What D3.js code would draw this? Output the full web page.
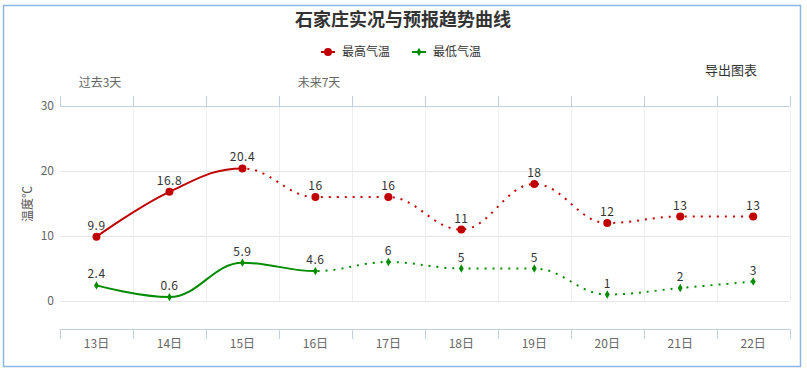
<!DOCTYPE html>
<html lang="zh"><head>
<meta charset="utf-8">
<title>石家庄实况与预报趋势曲线</title>
<script src="https://cdnjs.cloudflare.com/ajax/libs/d3/7.8.5/d3.min.js"></script>
<style>
body { margin: 0; background: #fff; }
text { font-family: "Noto Sans CJK SC", "Noto Sans", sans-serif; }
</style>
</head>
<body>
<div id="chart"></div>
<script type="text/javascript">

// data
var days = ["13日", "14日", "15日", "16日", "17日", "18日", "19日", "20日", "21日", "22日"];
var highTemp = [9.9, 16.8, 20.4, 16, 16, 11, 18, 12, 13, 13];
var lowTemp = [2.4, 0.6, 5.9, 4.6, 6, 5, 5, 1, 2, 3];
var yTicks = [0, 10, 20, 30];
var highLastSolid = 2;   // 15日
var lowLastSolid = 3;    // 16日

var width = 807, height = 371;
var plotLeft = 60, plotRight = 789.7, plotTop = 106, plotBottom = 301, xAxisY = 329;

var svg = d3.select("#chart").append("svg")
    .attr("width", width).attr("height", height);

svg.append("rect")
    .attr("x", 3.5).attr("y", 5.5)
    .attr("width", 797).attr("height", 361)
    .attr("fill", "none").attr("stroke", "#8db7e3").attr("stroke-width", 1.5);

var x = d3.scaleBand().domain(days).range([plotLeft, plotRight]).padding(0);
var y = d3.scaleLinear().domain([0, 30]).range([plotBottom, plotTop]);
var cx = function(i) { return x(days[i]) + x.bandwidth() / 2; };

// grid
svg.append("g").selectAll("line").data(yTicks.slice(0, 3)).enter().append("line")
    .attr("x1", plotLeft).attr("x2", plotRight)
    .attr("y1", function(d) { return Math.round(y(d)) + 0.5; })
    .attr("y2", function(d) { return Math.round(y(d)) + 0.5; })
    .attr("stroke", "#e6e6e6");
svg.append("g").selectAll("line").data(days.slice(1).concat(["end"])).enter().append("line")
    .attr("x1", function(d) { return Math.round(d == "end" ? plotRight : x(d)) + 0.5; })
    .attr("x2", function(d) { return Math.round(d == "end" ? plotRight : x(d)) + 0.5; })
    .attr("y1", plotTop).attr("y2", plotBottom)
    .attr("stroke", "#eeeeee");

// top & bottom category axes
var bounds = days.map(function(d) { return x(d); }).concat([plotRight]);
[[plotTop, -10], [xAxisY, 10]].forEach(function(a) {
    var g = svg.append("g");
    g.append("line")
        .attr("x1", plotLeft).attr("x2", plotRight)
        .attr("y1", a[0] + 0.5).attr("y2", a[0] + 0.5)
        .attr("stroke", "#c0d0e0");
    g.selectAll("line.tick").data(bounds).enter().append("line")
        .attr("class", "tick")
        .attr("x1", function(d) { return Math.round(d) + 0.5; })
        .attr("x2", function(d) { return Math.round(d) + 0.5; })
        .attr("y1", a[0]).attr("y2", a[0] + a[1])
        .attr("stroke", "#c0d0e0");
});

svg.append("g").selectAll("text").data(days).enter().append("text")
    .attr("x", function(d, i) { return cx(i); })
    .attr("y", 344).attr("dy", "0.35em")
    .attr("text-anchor", "middle")
    .attr("font-size", 12).attr("fill", "#666")
    .text(function(d) { return d; });

svg.append("g").selectAll("text").data(yTicks).enter().append("text")
    .attr("x", 54).attr("y", function(d) { return y(d); }).attr("dy", "0.35em")
    .attr("text-anchor", "end")
    .attr("font-size", 12).attr("fill", "#666")
    .text(function(d) { return d; });

svg.append("text")
    .attr("transform", "translate(28,204) rotate(-90)")
    .attr("text-anchor", "middle").attr("dy", "0.35em")
    .attr("font-size", 12).attr("fill", "#555")
    .text("温度℃");

svg.append("text").attr("x", 100).attr("y", 83).attr("dy", "0.35em")
    .attr("text-anchor", "middle").attr("font-size", 12).attr("fill", "#666")
    .text("过去3天");
svg.append("text").attr("x", 319).attr("y", 83).attr("dy", "0.35em")
    .attr("text-anchor", "middle").attr("font-size", 12).attr("fill", "#666")
    .text("未来7天");

// title, legend, export
svg.append("text").attr("x", 403).attr("y", 20).attr("dy", "0.35em")
    .attr("text-anchor", "middle").attr("font-size", 18).attr("font-weight", "bold")
    .attr("fill", "#333").text("石家庄实况与预报趋势曲线");

svg.append("text").attr("x", 705).attr("y", 70).attr("dy", "0.35em")
    .attr("font-size", 13).attr("fill", "#333").text("导出图表");

var diamond = d3.symbol().type(d3.symbolDiamond).size(20);

var series = [
    { name: "最高气温", data: highTemp, color: "#c00000", solidTo: highLastSolid, lx: 321 },
    { name: "最低气温", data: lowTemp, color: "#008c00", solidTo: lowLastSolid, lx: 412 }
];

function marker(sel, s, px, py) {
    if (s.name == "最高气温") {
        sel.append("circle").attr("cx", px).attr("cy", py).attr("r", 4).attr("fill", s.color);
    } else {
        sel.append("path").attr("d", diamond)
            .attr("transform", "translate(" + px + "," + py + ")").attr("fill", s.color);
    }
}

// spline like highcharts (smoothing 1.5)
function splinePath(pts) {
    var p = d3.path();
    var sm = 1.5, den = sm + 1;
    var prevR = null;
    p.moveTo(pts[0][0], pts[0][1]);
    for (var i = 1; i < pts.length; i++) {
        var px = pts[i][0], py = pts[i][1];
        var last = pts[i - 1], next = pts[i + 1];
        var lcx = px, lcy = py, rc = null;
        if (next) {
            lcx = (sm * px + last[0]) / den;
            lcy = (sm * py + last[1]) / den;
            var rcx = (sm * px + next[0]) / den;
            var rcy = (sm * py + next[1]) / den;
            var corr = 0;
            if (rcx !== lcx) corr = ((rcy - lcy) * (rcx - px)) / (rcx - lcx) + py - rcy;
            lcy += corr; rcy += corr;
            if (lcy > last[1] && lcy > py) { lcy = Math.max(last[1], py); rcy = 2 * py - lcy; }
            else if (lcy < last[1] && lcy < py) { lcy = Math.min(last[1], py); rcy = 2 * py - lcy; }
            if (rcy > next[1] && rcy > py) { rcy = Math.max(next[1], py); lcy = 2 * py - rcy; }
            else if (rcy < next[1] && rcy < py) { rcy = Math.min(next[1], py); lcy = 2 * py - rcy; }
            rc = [rcx, rcy];
        }
        var a = prevR || last;
        p.bezierCurveTo(a[0], a[1], lcx, lcy, px, py);
        prevR = rc;
    }
    return p.toString();
}

var defs = svg.append("defs");

series.forEach(function(s, k) {
    var pts = s.data.map(function(v, i) { return [cx(i), y(v)]; });
    var d = splinePath(pts);
    var splitX = cx(s.solidTo);

    defs.append("clipPath").attr("id", "solid" + k).append("rect")
        .attr("x", 0).attr("y", 0).attr("width", splitX).attr("height", height);
    defs.append("clipPath").attr("id", "dot" + k).append("rect")
        .attr("x", splitX).attr("y", 0).attr("width", width - splitX).attr("height", height);

    var g = svg.append("g");
    g.append("path").attr("d", d).attr("fill", "none")
        .attr("stroke", s.color).attr("stroke-width", 2)
        .attr("clip-path", "url(#solid" + k + ")");
    g.append("path").attr("d", d).attr("fill", "none")
        .attr("stroke", s.color).attr("stroke-width", 2)
        .attr("stroke-dasharray", "2,6")
        .attr("clip-path", "url(#dot" + k + ")");

    pts.forEach(function(p) { marker(g, s, p[0], p[1]); });

    g.selectAll("text").data(s.data).enter().append("text")
        .attr("x", function(v, i) { return cx(i); })
        .attr("y", function(v) { return y(v) - 7; })
        .attr("text-anchor", "middle")
        .attr("font-size", 12).attr("fill", "#333")
        .attr("letter-spacing", "0.5px")
        .text(function(v) { return v; });

    // legend
    var lg = svg.append("g");
    lg.append("line").attr("x1", s.lx).attr("x2", s.lx + 14)
        .attr("y1", 52).attr("y2", 52)
        .attr("stroke", s.color).attr("stroke-width", 2);
    marker(lg, s, s.lx + 7, 52);
    lg.append("text").attr("x", s.lx + 21).attr("y", 52).attr("dy", "0.35em")
        .attr("font-size", 12).attr("fill", "#333").text(s.name);
});

</script>
</body></html>
